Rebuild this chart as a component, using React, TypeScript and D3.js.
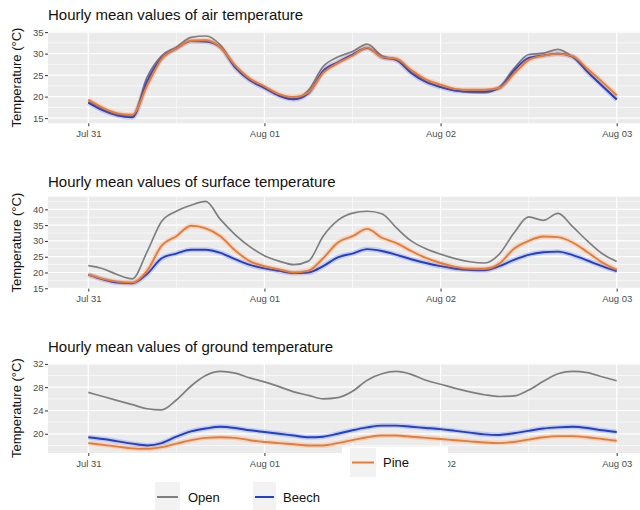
import React, { useEffect, useRef } from "react";
import * as d3 from "d3";

// hours after Jul 31 00:00, two-hourly means
const hours = [0, 2, 4, 6, 8, 10, 12, 14, 16, 18, 20, 22, 24, 26, 28, 30, 32, 34, 36,
  38, 40, 42, 44, 46, 48, 50, 52, 54, 56, 58, 60, 62, 64, 66, 68, 70, 72];

const dayLabels = ["Jul 31", "Aug 01", "Aug 02", "Aug 03"];

const airOpen = [18.8, 17.0, 15.8, 15.4, 24.5, 29.5, 31.5, 33.8, 34.1, 32.0, 27.0, 24.0, 22.2, 20.3, 19.4, 21.5, 27.0, 29.2, 30.5,
  32.2, 29.5, 28.6, 25.8, 23.6, 22.3, 21.4, 21.0, 20.9, 22.2, 26.5, 29.8, 30.1, 31.0, 29.2, 25.8, 22.5, 19.5];
const airBeech = [18.6, 16.8, 15.6, 15.2, 23.5, 29.0, 31.2, 32.9, 32.8, 31.5, 26.8, 23.8, 22.0, 20.2, 19.4, 20.8, 26.0, 28.0, 29.8,
  31.3, 29.2, 28.5, 25.5, 23.4, 22.2, 21.4, 21.2, 21.2, 22.0, 26.0, 29.0, 29.6, 30.0, 29.3, 25.8, 22.6, 19.3];
const airPine = [19.3, 17.4, 16.1, 15.8, 22.5, 28.8, 31.2, 33.0, 33.1, 31.5, 27.3, 24.2, 22.4, 20.6, 19.9, 21.0, 25.5, 27.8, 29.5,
  31.4, 29.2, 28.8, 26.2, 24.0, 22.8, 21.8, 21.6, 21.6, 22.0, 25.3, 28.5, 29.5, 30.0, 29.4, 26.5, 23.5, 20.3];

const surfOpen = [22.2, 21.2, 19.3, 18.0, 26.5, 36.2, 39.4, 41.3, 42.5, 36.8, 32.0, 28.2, 25.3, 23.6, 22.5, 23.6, 31.5, 36.5, 38.8,
  39.4, 38.6, 34.1, 30.0, 27.5, 25.8, 24.4, 23.4, 23.0, 25.8, 32.5, 37.6, 36.5, 38.7, 34.5, 30.0, 26.0, 23.5];
const surfBeech = [19.3, 17.8, 16.8, 16.6, 19.5, 24.5, 26.0, 27.2, 27.2, 26.2, 24.2, 22.4, 21.3, 20.5, 19.8, 20.0, 22.0, 24.8, 26.0,
  27.4, 26.8, 25.6, 24.2, 23.0, 22.0, 21.2, 20.8, 20.7, 22.0, 24.0, 25.6, 26.4, 26.6, 25.5, 23.8, 22.0, 20.4];
const surfPine = [19.3, 18.0, 17.1, 16.8, 20.5, 28.5, 31.5, 34.8, 34.0, 31.5, 27.0, 23.6, 22.0, 21.0, 20.0, 20.6, 24.5, 29.5, 31.5,
  33.8, 31.0, 29.3, 26.8, 24.6, 23.0, 21.8, 21.2, 21.2, 22.8, 27.5, 30.0, 31.4, 31.2, 29.5, 26.5, 23.2, 20.9];

const groundOpen = [27.1, 26.4, 25.7, 25.0, 24.3, 24.1, 25.8, 28.2, 30.0, 30.7, 30.4, 29.6, 28.9, 28.1, 27.2, 26.6, 26.0, 26.2, 27.3,
  29.2, 30.3, 30.7, 30.2, 29.2, 28.5, 27.8, 27.2, 26.7, 26.4, 26.5, 27.5, 29.0, 30.3, 30.7, 30.5, 29.8, 29.1];
const groundBeech = [19.4, 19.1, 18.7, 18.3, 18.0, 18.4, 19.5, 20.4, 20.9, 21.2, 21.0, 20.6, 20.3, 20.0, 19.7, 19.4, 19.5, 20.0, 20.6,
  21.1, 21.4, 21.4, 21.2, 21.0, 20.8, 20.5, 20.2, 19.9, 19.8, 20.1, 20.5, 20.9, 21.1, 21.2, 21.0, 20.6, 20.3];
const groundPine = [18.4, 18.1, 17.8, 17.5, 17.4, 17.7, 18.3, 18.9, 19.3, 19.4, 19.3, 18.9, 18.6, 18.4, 18.2, 18.0, 18.0, 18.4, 18.9,
  19.4, 19.7, 19.7, 19.5, 19.3, 19.1, 18.9, 18.7, 18.5, 18.4, 18.6, 19.0, 19.4, 19.6, 19.6, 19.4, 19.1, 18.8];

const COLORS: Record<string, string> = { Open: "#7f7f7f", Beech: "#1f3fcc", Pine: "#ec7a30" };
const FONT = "'Liberation Sans', Arial, Helvetica, sans-serif";

const panels = [
  { title: "Hourly mean values of air temperature", top: 31.7, bottom: 123.3, titleY: 20,
    yLim: [13.8, 35.1], ticks: [15, 20, 25, 30, 35], minor: [17.5, 22.5, 27.5, 32.5],
    series: { Open: airOpen, Beech: airBeech, Pine: airPine } },
  { title: "Hourly mean values of surface temperature", top: 196.7, bottom: 288.6, titleY: 186.5,
    yLim: [14.9, 44.0], ticks: [15, 20, 25, 30, 35, 40], minor: [17.5, 22.5, 27.5, 32.5, 37.5, 42.5],
    series: { Open: surfOpen, Beech: surfBeech, Pine: surfPine } },
  { title: "Hourly mean values of ground temperature", top: 363.3, bottom: 453, titleY: 351.5,
    yLim: [16.7, 32.1], ticks: [20, 24, 28, 32], minor: [18, 22, 26, 30],
    series: { Open: groundOpen, Beech: groundBeech, Pine: groundPine } },
];

export default function App() {
  const ref = useRef<SVGSVGElement>(null);

  useEffect(() => {
    const svg = d3.select(ref.current);
    svg.selectAll("*").remove();

    const t0 = new Date(2021, 6, 31);
    const days = dayLabels.map((d, i) => d3.timeDay.offset(t0, i));
    const x = d3.scaleTime().domain([days[0], days[3]]).range([88.3, 616.7]);
    const left = 48, right = 640;
    const dateOf = (h: number) => d3.timeHour.offset(t0, h);
    const halfDays = [12, 36, 60].map(dateOf);

    panels.forEach((p, pi) => {
      const y = d3.scaleLinear().domain(p.yLim).range([p.bottom, p.top]);
      const g = svg.append("g");

      g.append("text")
        .attr("x", left).attr("y", p.titleY)
        .style("font", `15px ${FONT}`).attr("fill", "#111")
        .text(p.title);

      g.append("rect")
        .attr("x", left).attr("y", p.top)
        .attr("width", right - left).attr("height", p.bottom - p.top)
        .attr("fill", "#ebebeb");

      // grid
      p.minor.forEach(v => g.append("line").attr("x1", left).attr("x2", right)
        .attr("y1", y(v)).attr("y2", y(v)).attr("stroke", "#fff").attr("stroke-width", 0.6));
      halfDays.forEach(d => g.append("line").attr("x1", x(d)).attr("x2", x(d))
        .attr("y1", p.top).attr("y2", p.bottom).attr("stroke", "#fff").attr("stroke-width", 0.6));
      p.ticks.forEach(v => g.append("line").attr("x1", left).attr("x2", right)
        .attr("y1", y(v)).attr("y2", y(v)).attr("stroke", "#fff").attr("stroke-width", 1.2));
      days.forEach(d => g.append("line").attr("x1", x(d)).attr("x2", x(d))
        .attr("y1", p.top).attr("y2", p.bottom).attr("stroke", "#fff").attr("stroke-width", 1.2));

      const clipId = "clip" + pi;
      g.append("clipPath").attr("id", clipId).append("rect")
        .attr("x", left).attr("y", p.top).attr("width", right - left).attr("height", p.bottom - p.top);

      const line = d3.line<number>()
        .x((_, i) => x(dateOf(hours[i])))
        .y(v => y(v))
        .curve(d3.curveMonotoneX);

      const lines = g.append("g").attr("clip-path", `url(#${clipId})`);
      ["Open", "Beech", "Pine"].forEach(name => {
        const vals = (p.series as any)[name] as number[];
        if (name !== "Open") {
          lines.append("path").attr("d", line(vals)).attr("fill", "none")
            .attr("stroke", COLORS[name]).attr("stroke-opacity", 0.18)
            .attr("stroke-width", 5).attr("stroke-linejoin", "round");
        }
        lines.append("path").attr("d", line(vals)).attr("fill", "none")
          .attr("stroke", COLORS[name]).attr("stroke-width", name === "Open" ? 1.7 : 1.9)
          .attr("stroke-linejoin", "round");
      });

      // axes
      const yAxis = g.append("g").attr("transform", `translate(${left},0)`)
        .call(d3.axisLeft(y).tickValues(p.ticks).tickSize(3).tickPadding(1.5).tickFormat(d3.format("d")));
      const xAxis = g.append("g").attr("transform", `translate(0,${p.bottom})`)
        .call(d3.axisBottom(x).tickValues(days).tickSize(3).tickPadding(4)
          .tickFormat((d, i) => dayLabels[i]));
      [yAxis, xAxis].forEach(a => {
        a.select(".domain").remove();
        a.selectAll(".tick line").attr("stroke", "#333").attr("stroke-width", 1);
        a.selectAll(".tick text").attr("fill", "#4d4d4d").style("font", `9.5px ${FONT}`);
      });

      g.append("text")
        .attr("transform", `translate(21,${(p.top + p.bottom) / 2}) rotate(-90)`)
        .attr("text-anchor", "middle")
        .style("font", `13px ${FONT}`).attr("fill", "#111")
        .text("Temperature (°C)");
    });

    // legends
    const key = (gx: number, gy: number, w: number, h: number, name: string, tx: number) => {
      const g = svg.append("g");
      g.append("rect").attr("x", gx).attr("y", gy).attr("width", w).attr("height", h).attr("fill", "#f2f2f2");
      g.append("line").attr("x1", gx + 2).attr("x2", gx + w - 2)
        .attr("y1", gy + h / 2).attr("y2", gy + h / 2)
        .attr("stroke", COLORS[name]).attr("stroke-width", 2);
      g.append("text").attr("x", tx).attr("y", gy + h / 2 + 4.5)
        .style("font", `13px ${FONT}`).attr("fill", "#111").text(name);
    };
    svg.append("rect").attr("x", 342).attr("y", 446.5).attr("width", 106).attr("height", 32).attr("fill", "#fff");
    key(350, 448, 26, 29, "Pine", 383);
    key(155, 482, 25, 30, "Open", 188);
    key(253, 482, 23, 30, "Beech", 283);
  }, []);

  return (
    <svg ref={ref} width={640} height={510}
      style={{ position: "absolute", left: 0, top: 0, background: "#fff" }} />
  );
}
